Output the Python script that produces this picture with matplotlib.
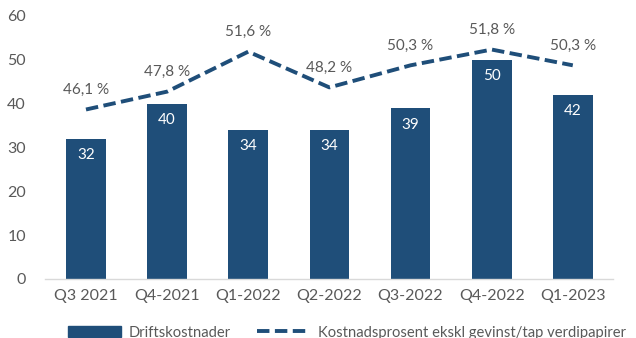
import matplotlib
matplotlib.use("Agg")
import matplotlib.pyplot as plt
from matplotlib.lines import Line2D
from matplotlib.patches import Patch

quarters = ["Q3 2021", "Q4-2021", "Q1-2022", "Q2-2022", "Q3-2022", "Q4-2022", "Q1-2023"]
driftskostnader = [32, 40, 34, 34, 39, 50, 42]
kostnadsprosent = [46.1, 47.8, 51.6, 48.2, 50.3, 51.8, 50.3]

bar_color = "#1f4e79"
text_color = "#595959"
plt.rcParams["font.family"] = ["Lato", "DejaVu Sans"]

fig = plt.figure(figsize=(6.36, 3.38), dpi=100)
ax = fig.add_axes([0.0714, 0.175, 0.893, 0.778])
x = list(range(len(quarters)))

ax.bar(x, driftskostnader, width=0.49, color=bar_color, zorder=2)
for xi, v in zip(x, driftskostnader):
    ax.text(xi, v - 2.2, f"{v}", ha="center", va="top", color="white", fontsize=11)

ax.set_ylim(0, 60)
ax.set_yticks(range(0, 61, 10))
ax.set_xlim(-0.5, len(quarters) - 0.5)
ax.set_xticks(x)
ax.set_xticklabels(quarters)
ax.tick_params(axis="both", length=0, colors=text_color, labelsize=11.5)
ax.tick_params(axis="x", pad=7)
ax.tick_params(axis="y", pad=14)
for s in ["top", "right", "left"]:
    ax.spines[s].set_visible(False)
ax.spines["bottom"].set_color("#d9d9d9")
ax.spines["bottom"].set_linewidth(1)

# percentage series on a hidden secondary scale
ax2 = ax.twinx()
ax2.set_ylim(30, 55)
ax2.axis("off")
dash = (3.2, 1.4)
ax2.plot(x, kostnadsprosent, color=bar_color, linewidth=2.8, dashes=dash, zorder=3)
for xi, p in zip(x, kostnadsprosent):
    ax2.text(xi, p + 1.2, f"{p:.1f} %".replace(".", ","), ha="center", va="bottom",
             color=text_color, fontsize=11)

handles = [Patch(color=bar_color), Line2D([], [], color=bar_color, linewidth=2.8, dashes=dash)]
labels = ["Driftskostnader", "Kostnadsprosent ekskl gevinst/tap verdipapirer"]
fig.legend(handles, labels, loc="lower right", bbox_to_anchor=(1.0, -0.035), ncol=2,
           frameon=False, fontsize=10.6, labelcolor=text_color, handlelength=3.6,
           handleheight=0.75, columnspacing=1.8, handletextpad=0.5, borderaxespad=0.3)

fig.savefig("out.png", dpi=100)
